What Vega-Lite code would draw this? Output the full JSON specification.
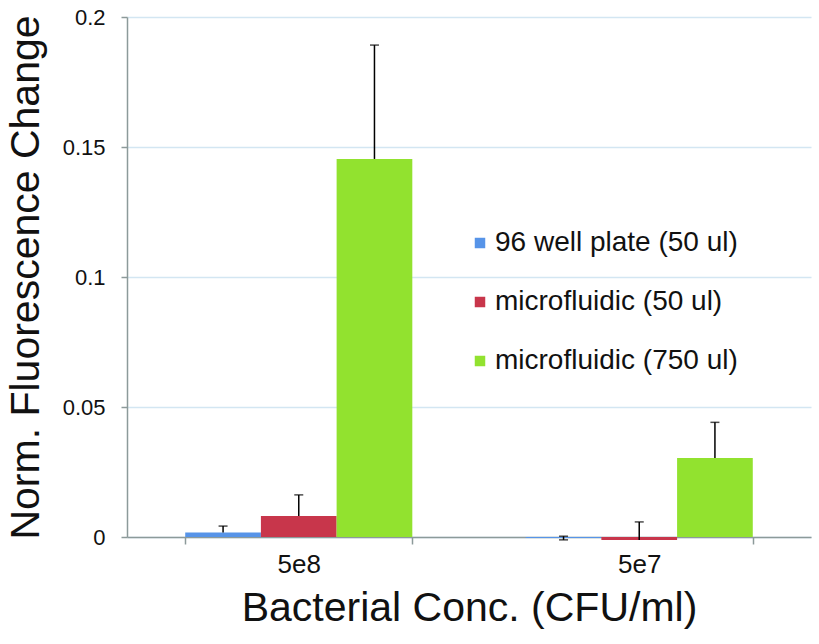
{
  "$schema": "https://vega.github.io/schema/vega-lite/v6.json",
  "autosize": {"type": "none"},
  "width": 684,
  "height": 520,
  "padding": {"left": 127, "top": 17, "right": 8, "bottom": 107},
  "background": "white",
  "config": {
    "view": {"stroke": null},
    "font": "Liberation Sans",
    "axis": {"labelFont": "Liberation Sans", "titleFont": "Liberation Sans", "titleFontWeight": "normal", "labelColor": "#111111", "titleColor": "#111111", "domainColor": "#8c9a9a", "tickColor": "#8c9a9a", "domainWidth": 1.5, "tickWidth": 1.5}
  },
  "data": {
    "values": [
      {"conc": "5e8", "series": "96 well plate (50 ul)", "value": 0.0017, "lo": 0.0017, "hi": 0.0042, "locap": null},
      {"conc": "5e8", "series": "microfluidic (50 ul)", "value": 0.0081, "lo": 0.0081, "hi": 0.0162, "locap": null},
      {"conc": "5e8", "series": "microfluidic (750 ul)", "value": 0.1454, "lo": 0.1454, "hi": 0.1892, "locap": null},
      {"conc": "5e7", "series": "96 well plate (50 ul)", "value": -0.0004, "lo": -0.0011, "hi": 0.0003, "locap": -0.0011},
      {"conc": "5e7", "series": "microfluidic (50 ul)", "value": -0.0012, "lo": -0.0012, "hi": 0.0058, "locap": null},
      {"conc": "5e7", "series": "microfluidic (750 ul)", "value": 0.0304, "lo": 0.0304, "hi": 0.0441, "locap": null}
    ]
  },
  "encoding": {
    "x": {
      "field": "conc", "type": "nominal", "sort": ["5e8", "5e7"],
      "scale": {"paddingInner": 0.333, "paddingOuter": 0.171},
      "axis": {"title": "Bacterial Conc. (CFU/ml)", "labelAngle": 0, "labelFontSize": 26, "titleFontSize": 41, "tickBand": "extent", "tickSize": 7, "labelPadding": 7, "titlePadding": 11, "grid": false}
    },
    "xOffset": {"field": "series", "type": "nominal", "sort": ["96 well plate (50 ul)", "microfluidic (50 ul)", "microfluidic (750 ul)"], "scale": {"paddingInner": 0, "paddingOuter": 0}}
  },
  "layer": [
    {
      "mark": {"type": "bar", "clip": false},
      "encoding": {
        "y": {
          "field": "value", "type": "quantitative",
          "scale": {"domain": [0, 0.2], "nice": false, "zero": false},
          "axis": {"title": "Norm. Fluorescence Change", "values": [0, 0.05, 0.1, 0.15, 0.2], "format": "~g", "labelFontSize": 22, "titleFontSize": 41, "tickSize": 6, "labelPadding": 16, "titlePadding": 15, "grid": true, "gridColor": "#d3e6f2", "gridWidth": 1.5}
        },
        "color": {
          "field": "series", "type": "nominal",
          "sort": ["96 well plate (50 ul)", "microfluidic (50 ul)", "microfluidic (750 ul)"],
          "scale": {"range": ["#5794e8", "#c8364b", "#92e22f"]},
          "legend": {"title": null, "orient": "none", "legendX": 339, "legendY": 212, "symbolType": "square", "symbolSize": 110, "symbolStrokeWidth": 0, "labelFontSize": 28, "labelFont": "Liberation Sans", "labelColor": "#111111", "labelOffset": 1, "rowPadding": 31, "labelLimit": 400}
        }
      }
    },
    {
      "mark": {"type": "rule", "color": "black", "strokeWidth": 1.5},
      "encoding": {
        "y": {"field": "lo", "type": "quantitative"},
        "y2": {"field": "hi"}
      }
    },
    {
      "mark": {"type": "tick", "color": "black", "thickness": 1.5, "size": 9, "orient": "horizontal"},
      "encoding": {
        "y": {"field": "hi", "type": "quantitative"}
      }
    },
    {
      "mark": {"type": "tick", "color": "black", "thickness": 1.5, "size": 9, "orient": "horizontal"},
      "encoding": {
        "y": {"field": "locap", "type": "quantitative"}
      }
    }
  ]
}
